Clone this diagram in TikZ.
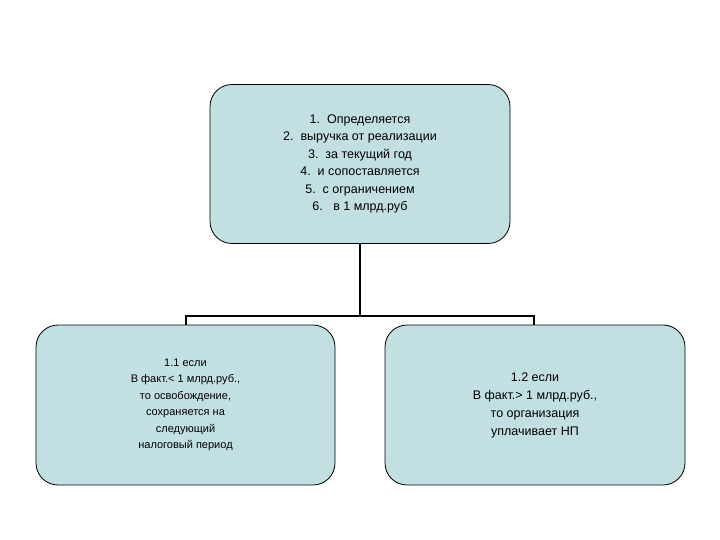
\documentclass[tikz,border=0pt]{standalone}
\usepackage{fontspec}
\setmainfont{Liberation Sans}
\definecolor{boxfill}{HTML}{C2E0E2}
\begin{document}
\begin{tikzpicture}[x=1pt,y=-1pt,
  box/.style={draw=black,line width=0.8pt,fill=boxfill,rounded corners=22pt,align=center,inner sep=0pt},
  conn/.style={line width=2pt}]
\useasboundingbox (0,0) rectangle (720,540);
\node[box,minimum width=300pt,minimum height=159pt,font=\fontsize{12.5}{17.5}\selectfont] (top) at (360,164)
 {1.\ \ Определяется\\2.\ \ выручка от реализации\\3.\ \ за текущий год\\4.\ \ и сопоставляется\\5.\ \ с ограничением\\6.\ \ \ в 1 млрд.руб};
\node[box,minimum width=299pt,minimum height=160pt,font=\fontsize{11}{16.5}\selectfont] (left) at (185.5,405)
 {1.1 если\\В факт.< 1 млрд.руб.,\\то освобождение,\\сохраняется на\\следующий\\налоговый период};
\node[box,minimum width=300pt,minimum height=160pt,font=\fontsize{12.5}{18}\selectfont] (right) at (535,405)
 {1.2 если\\В факт.> 1 млрд.руб.,\\то организация\\уплачивает НП};
\coordinate (j) at (360,316);
\draw[conn] (top.south) -- (j);
\draw[conn] (left.north -| 186,0) |- (j) -| (right.north -| 534,0);
\end{tikzpicture}
\end{document}
